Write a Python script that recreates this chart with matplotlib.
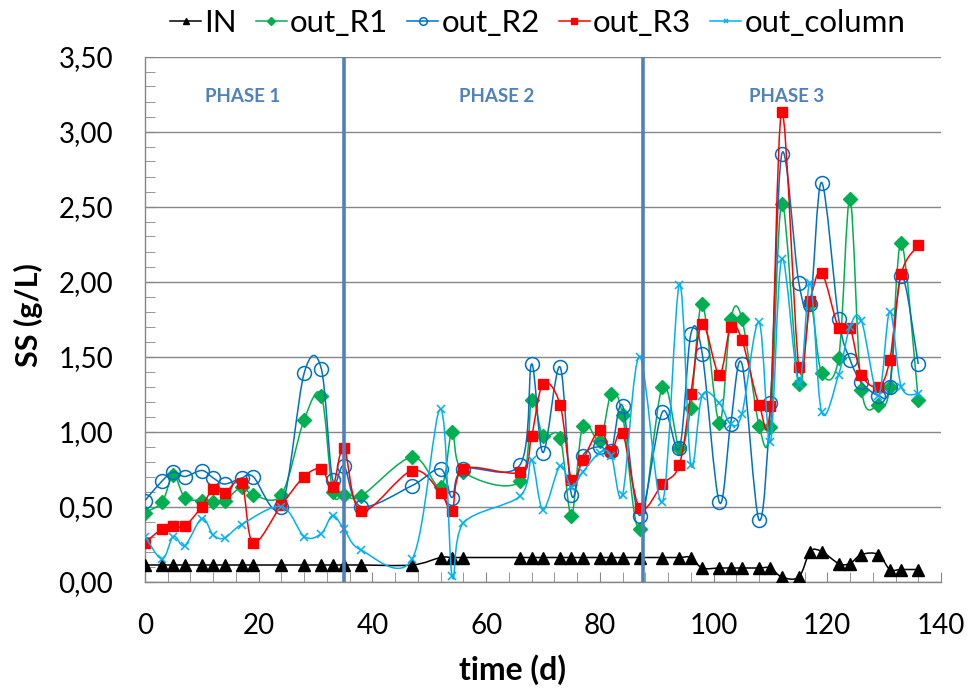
import numpy as np
import matplotlib
matplotlib.use('Agg')
import matplotlib.pyplot as plt
from matplotlib.path import Path
from matplotlib.patches import PathPatch
from matplotlib.lines import Line2D
from matplotlib.ticker import MultipleLocator, FuncFormatter

# sampling days (column has no value on day 19)
days = [0, 3, 5, 7, 10, 12, 14, 17, 19, 24, 28, 31, 33, 35, 38, 47, 52, 54, 56,
        66, 68, 70, 73, 75, 77, 80, 82, 84, 87, 91, 94, 96, 98, 101, 103, 105,
        108, 110, 112, 115, 117, 119, 122, 124, 126, 129, 131, 133, 136]
days_column = [0, 3, 5, 7, 10, 12, 14, 17, 24, 28, 31, 33, 35, 38, 47, 52, 54, 56,
               66, 68, 70, 73, 75, 77, 80, 82, 84, 87, 91, 94, 96, 98, 101, 103, 105,
               108, 110, 112, 115, 117, 119, 122, 124, 126, 129, 131, 133, 136]

ss_in = [0.11, 0.11, 0.11, 0.11, 0.11, 0.11, 0.11, 0.11, 0.11, 0.11, 0.11, 0.11,
         0.11, 0.11, 0.11, 0.11, 0.16, 0.16, 0.16, 0.16, 0.16, 0.16, 0.16, 0.16,
         0.16, 0.16, 0.16, 0.16, 0.16, 0.16, 0.16, 0.16, 0.09, 0.09, 0.09, 0.09,
         0.09, 0.09, 0.03, 0.03, 0.20, 0.20, 0.12, 0.12, 0.18, 0.18, 0.08, 0.08, 0.08]
out_r1 = [0.46, 0.53, 0.71, 0.56, 0.54, 0.53, 0.54, 0.63, 0.58, 0.58, 1.08, 1.24,
          0.60, 0.58, 0.57, 0.83, 0.63, 1.00, 0.73, 0.67, 1.21, 0.97, 0.96, 0.44,
          1.04, 0.94, 1.25, 1.11, 0.35, 1.30, 0.89, 1.16, 1.85, 1.06, 1.75, 1.75,
          1.04, 1.03, 2.52, 1.32, 1.85, 1.39, 1.49, 2.55, 1.28, 1.18, 1.30, 2.26, 1.21]
out_r2 = [0.54, 0.67, 0.73, 0.70, 0.74, 0.69, 0.65, 0.69, 0.70, 0.50, 1.39, 1.42,
          0.68, 0.77, 0.50, 0.64, 0.75, 0.56, 0.75, 0.78, 1.45, 0.86, 1.43, 0.58,
          0.84, 0.90, 0.87, 1.17, 0.44, 1.13, 0.89, 1.65, 1.52, 0.53, 1.05, 1.45,
          0.41, 1.19, 2.85, 1.99, 1.85, 2.66, 1.75, 1.48, 1.33, 1.24, 1.30, 2.04, 1.45]
out_r3 = [0.26, 0.35, 0.37, 0.37, 0.50, 0.62, 0.59, 0.66, 0.26, 0.51, 0.70, 0.75,
          0.63, 0.89, 0.47, 0.74, 0.59, 0.47, 0.75, 0.73, 0.97, 1.32, 1.18, 0.68,
          0.81, 1.01, 0.87, 0.99, 0.49, 0.65, 0.78, 1.25, 1.72, 1.38, 1.70, 1.61,
          1.18, 1.17, 3.13, 1.43, 1.87, 2.06, 1.69, 1.69, 1.38, 1.30, 1.48, 2.05, 2.24]
out_column = [0.30, 0.15, 0.30, 0.24, 0.42, 0.31, 0.29, 0.38, 0.50, 0.30, 0.32,
              0.44, 0.35, 0.21, 0.15, 1.15, 0.04, 0.39, 0.57, 0.81, 0.48, 0.77,
              0.63, 0.73, 0.86, 0.84, 0.58, 1.50, 0.53, 1.98, 0.78, 1.24, 1.19,
              1.05, 1.12, 1.73, 0.93, 2.15, 1.32, 1.99, 1.13, 1.38, 1.70, 1.74,
              1.24, 1.80, 1.30, 1.25]

phase_bounds = [35, 87.6]
phase_labels = ['PHASE 1', 'PHASE 2', 'PHASE 3']
phase_label_x = [17.1, 61.8, 112.8]


def smooth_path(xs, ys):
    """Excel-like smoothed line: Catmull-Rom segments as cubic Beziers."""
    pts = np.column_stack([xs, ys]).astype(float)
    n = len(pts)
    verts = [pts[0]]
    codes = [Path.MOVETO]
    for i in range(n - 1):
        p0 = pts[max(i - 1, 0)]
        p1 = pts[i]
        p2 = pts[i + 1]
        p3 = pts[min(i + 2, n - 1)]
        verts += [p1 + (p2 - p0) / 6, p2 - (p3 - p1) / 6, p2]
        codes += [Path.CURVE4] * 3
    return Path(verts, codes)


plt.rcParams['font.family'] = ['Lato', 'DejaVu Sans']

fig = plt.figure(figsize=(9.72, 6.88), dpi=100)
ax = fig.add_axes([145 / 972, 1 - 581.5 / 688, 796 / 972, 525 / 688])

series = [
    ('IN', days, ss_in, 'black', dict(marker='^', ms=9, mfc='black', mec='black')),
    ('out_R1', days, out_r1, '#00B050', dict(marker='D', ms=7, mfc='#00B050', mec='#00B050')),
    ('out_R2', days, out_r2, '#0070C0', dict(marker='o', ms=10, mfc='none', mec='#0070C0', mew=1.1)),
    ('out_R3', days, out_r3, '#FF0000', dict(marker='s', ms=7, mfc='#FF0000', mec='#FF0000')),
    ('out_column', days_column, out_column, '#00B0F0', dict(marker='x', ms=6, mec='#00B0F0', mew=1.1)),
]

handles = []
for z, (name, xs, ys, col, mk) in enumerate(series):
    ax.add_patch(PathPatch(smooth_path(xs, ys), facecolor='none', edgecolor=col,
                           lw=1.1, zorder=3 + z))
    ax.plot(xs, ys, linestyle='none', zorder=3 + z, **mk)
    handles.append(Line2D([], [], color=col, lw=1.1, label=name, **mk))

for xb in phase_bounds:
    ax.axvline(xb, color='#4F81BD', lw=2.6, zorder=10)
for lx, lab in zip(phase_label_x, phase_labels):
    ax.text(lx, 3.23, lab, color='#4F81BD', fontsize=13.5, fontweight='bold',
            ha='center', va='center')

ax.set_xlim(0, 140)
ax.set_ylim(0, 3.5)
ax.xaxis.set_major_locator(MultipleLocator(20))
ax.xaxis.set_minor_locator(MultipleLocator(4))
ax.yaxis.set_major_locator(MultipleLocator(0.5))
ax.yaxis.set_minor_locator(MultipleLocator(0.1))
ax.yaxis.set_major_formatter(FuncFormatter(lambda v, p: f'{v:.2f}'.replace('.', ',')))
ax.tick_params(which='both', direction='in', color='#868686', labelsize=20)
ax.tick_params(axis='x', which='major', length=7, pad=23)
ax.tick_params(axis='x', which='minor', length=7)
ax.tick_params(axis='y', which='major', length=7, pad=23)
ax.tick_params(axis='y', which='minor', length=7)
ax.grid(axis='y', which='major', color='#868686', lw=1.0)
ax.set_axisbelow(True)
for s in ['top', 'right']:
    ax.spines[s].set_visible(False)
for s in ['left', 'bottom']:
    ax.spines[s].set_color('#868686')
    ax.spines[s].set_linewidth(1.0)

ax.set_xlabel('time (d)', fontsize=23, fontweight='bold')
ax.xaxis.set_label_coords(0.462, -0.168)
ax.xaxis.label.set_va('center')
ax.set_ylabel('SS (g/L)', fontsize=22, fontweight='bold')
ax.yaxis.set_label_coords(-0.146, 0.508)
ax.yaxis.label.set_va('center')

fig.legend(handles=handles, loc='center', bbox_to_anchor=(0.553, 1 - 23 / 688),
           ncol=5, frameon=False, fontsize=22.5, handlelength=1.0,
           handletextpad=0.1, columnspacing=0.6, markerscale=0.55)

fig.savefig('out.png', dpi=100)
